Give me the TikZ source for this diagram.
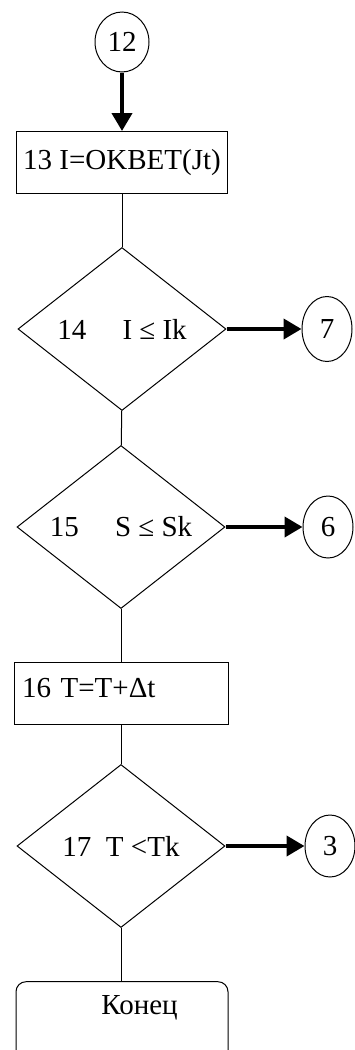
\documentclass[tikz,border=0pt]{standalone}
\usepackage{fontspec}
\setmainfont{Liberation Serif}
\usetikzlibrary{shapes.geometric, arrows.meta}

\begin{document}
\begin{tikzpicture}[x=1pt, y=-1pt,
    font=\fontsize{29}{32}\selectfont,
    every node/.style={draw, line width=1pt},
    connector/.style={ellipse, minimum width=50pt, minimum height=62pt, inner sep=0pt},
    procbox/.style={rectangle, minimum height=62pt},
    decision/.style={diamond, minimum width=208pt, minimum height=163pt, inner sep=0pt},
    flowline/.style={line width=1pt},
    flowarrow/.style={line width=4pt, -{Triangle[length=18pt, width=20pt]}}]
      \useasboundingbox (0,0) rectangle (354,1050);

      % entry connector and block 13
      \node[connector, minimum width=54pt, minimum height=60pt] (c12) at (122,42) {12};
      \node[procbox, minimum width=211pt, inner xsep=4pt] (b13) at (122,162.5) {13 I=OKBET(Jt)};
      \draw[flowarrow] (c12) -- (b13);

      % check 14, exit to 7
      \node[decision] (d14) at (122,329) {14\quad\ I ≤ Ik};
      \node[connector, minimum height=65pt] (c7) at (327,329) {7};
      \draw[flowline] (b13) -- (d14);
      \draw[flowarrow] (d14) -- (c7);

      % check 15, exit to 6
      \node[decision] (d15) at (121,527) {15\quad\ S ≤ Sk};
      \node[connector] (c6) at (328,527) {6};
      \draw[flowline] (d14) -- (d15);
      \draw[flowarrow] (d15) -- (c6);

      % block 16
      \node[procbox, text width=198pt, inner xsep=8pt, align=left,
            text height=19pt, text depth=12pt] (b16) at (121,693.5) {16 T=T+Δt};
      \draw[flowline] (d15) -- (b16);

      % check 17, exit to 3
      \node[decision] (d17) at (121,846) {17\ \ T <Tk};
      \node[connector] (c3) at (330,846) {3};
      \draw[flowline] (b16) -- (d17);
      \draw[flowarrow] (d17) -- (c3);

      % end
      \node[rectangle, rounded corners=10pt, minimum width=212pt, minimum height=90pt,
            text height=20pt, text depth=44pt] (konec) at (122,1026.7) {\hspace*{35pt}Конец};
      \draw[flowline] (d17.south) -- (d17.south |- konec.north);
    \end{tikzpicture}
\end{document}
